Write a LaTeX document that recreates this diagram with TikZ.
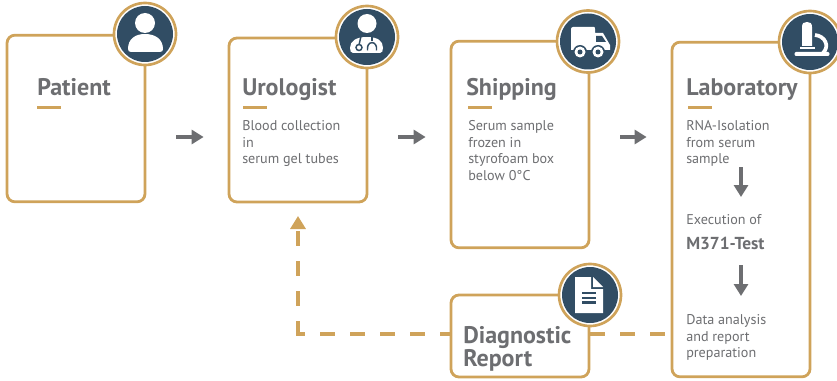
\documentclass[tikz,border=0pt]{standalone}
\usepackage{fontspec}
\setmainfont{PT Sans}
\usetikzlibrary{arrows.meta,positioning}
\definecolor{gold}{RGB}{207,163,90}
\definecolor{navy}{RGB}{49,77,100}
\definecolor{slate}{RGB}{109,110,113}
\tikzset{
  stage/.style={draw=gold,line width=2.1pt,rounded corners=6pt,fill=white,inner sep=0pt},
  badge/.style={draw=gold,line width=2pt,fill=white},
  disc/.style={fill=navy},
  ink/.style={fill=white},
  title/.style={anchor=base west,inner sep=0pt,text=slate,font=\fontsize{18}{21}\selectfont\bfseries,align=left},
  body/.style={anchor=north west,inner sep=0pt,text=slate,font=\fontsize{10.6}{12.4}\selectfont,align=left},
  rule/.style={draw=gold,line width=2.2pt},
  flow/.style={draw=slate,line width=3.2pt,-{Triangle[length=9pt,width=10.5pt]}},
  across/.style={flow,shorten <=22.5pt,shorten >=18pt},
  back/.style={draw=gold,line width=2.6pt,dash pattern=on 11.25pt off 11.25pt},
  backtip/.style={back,shorten <=-1.3pt,-{Triangle[length=9.75pt,width=11.25pt]}}
}
\begin{document}
\begin{tikzpicture}[x=0.75pt,y=0.75pt,yscale=-1,xscale=1]
\useasboundingbox (0,0) rectangle (837,381);

%Shape: Rectangle
\node [stage,minimum width=103.5pt,minimum height=125pt] (patient) at (76,118.5) {};
\node [stage,minimum width=103.5pt,minimum height=123pt] (urologist) at (298,120) {};
\node [stage,minimum width=103.5pt,minimum height=155pt] (shipping) at (520,144.5) {};
\node [stage,minimum width=103.5pt,minimum height=251pt] (laboratory) at (741,209.5) {};
\node [stage,minimum width=103.5pt,minimum height=61.5pt] (report) at (520,336) {};

%Straight Lines
\draw [across] (patient.east |- 0,137) -- (urologist.west |- 0,137);
\draw [across] (urologist.east |- 0,137) -- (shipping.west |- 0,137);
\draw [across] (shipping.east |- 0,137) -- (laboratory.west |- 0,137);

%Straight Lines
\coordinate (turn) at (298,334);
\coordinate (tip) at (298,216);
\draw [back] (report.east |- turn) -- (laboratory.west |- turn);
\draw [back,dash phase=3.75pt] (report.west |- turn) -- (turn);
\draw [backtip] (turn) -- (tip);

%Shape: Circle
\path [badge] (145,34) circle (31);
\path [disc] (145,34) circle (28);
\path [badge] (367,37) circle (31);
\path [disc] (367,37) circle (28);
\path [badge] (588,41.5) circle (31);
\path [disc] (588,41.5) circle (28);
\path [badge] (810,42) circle (31);
\path [disc] (810,42) circle (28);
\path [badge] (590,295) circle (31);
\path [disc] (590,295) circle (28);

%Icon: person
\path [ink] (145,23) circle (10);
\path [ink] (128,49) .. controls (128,39) and (135,34) .. (145,34) .. controls (155,34) and (163,39) .. (163,49) .. controls (163,51) and (162,52) .. (160,52) -- (131,52) .. controls (129,52) and (128,51) .. (128,49) -- cycle;

%Icon: doctor
\path [ink] (367,23.5) circle (9.5);
\path [ink] (350,48) .. controls (350,41) and (356,37) .. (367,37) .. controls (378,37) and (383,41) .. (383,48) .. controls (383,51) and (382,53) .. (380,53) -- (353,53) .. controls (351,53) and (350,51) .. (350,48) -- cycle;
\draw [navy,line width=1.1pt] (361,36) -- (359,45);
\draw [navy,line width=1.1pt] (359,47.5) circle (3);
\draw [navy,line width=1.1pt] (372,36) -- (372,41);
\draw [navy,line width=1.1pt] (367.5,50.5) .. controls (366,40) and (378,40) .. (376.5,50.5);

%Icon: truck
\path [ink] (571,29) .. controls (571,28) and (572,27) .. (573,27) -- (594,27) .. controls (595,27) and (595,28) .. (595,29) -- (595,33) -- (603,33) -- (610,45) -- (610,50) -- (571,50) -- cycle;
\path [disc] (596,36) -- (602,36) -- (606,42) -- (596,42) -- cycle;
\path [disc] (580,52) circle (7);
\path [ink] (580,52) circle (5.5);
\path [disc] (580,52) circle (2.5);
\path [disc] (598,52) circle (7);
\path [ink] (598,52) circle (5.5);
\path [disc] (598,52) circle (2.5);

%Icon: microscope
\path [ink] (802,27) .. controls (802,23) and (804,22) .. (807,22) .. controls (810,22) and (812,23) .. (812,27) -- (812,46) -- (802,46) -- cycle;
\path [ink] (800,47) -- (815,47) -- (815,49) -- (800,49) -- cycle;
\draw [white,line width=2.8pt] (815,35) .. controls (825,36) and (830,46) .. (823,53);
\path [ink] (796,52) -- (828,52) .. controls (830,52) and (830,56) .. (828,56) -- (796,56) .. controls (794,56) and (794,52) .. (796,52) -- cycle;

%Icon: document
\path [ink] (575,277) -- (591,277) -- (591,289) -- (603,289) -- (603,313) -- (575,313) -- cycle;
\path [ink] (593,277) -- (603,287) -- (593,287) -- cycle;
\draw [navy,line width=1.6pt] (582,293) -- (596,293) (582,298) -- (596,298) (582,302.5) -- (596,302.5);

% Text Node
\draw (37,96) node [title] (patienttitle) {Patient};
\draw [rule] (37,107.5) -- (61,107.5);
\draw (242,96) node [title] (urologisttitle) {Urologist};
\draw [rule] (243,107.5) -- (267,107.5);
\draw (242,120.5) node [body] (urologisttext) {Blood collection\\in\\serum gel tubes};
\draw (466,96) node [title] (shippingtitle) {Shipping};
\draw [rule] (468,107.5) -- (492,107.5);
\draw (468,120.5) node [body] (shippingtext) {Serum sample\\frozen in\\styrofoam box\\below 0°C};
\draw (686,96) node [title] (laboratorytitle) {Laboratory};
\draw [rule] (688,107.5) -- (712,107.5);
\draw (686,120.5) node [body] (isolation) {RNA-Isolation\\from serum\\sample};
\draw (686,214.5) node [body] (execution) {Execution of};
\draw (686,249) node [anchor=base west,inner sep=0pt,text=slate,font=\fontsize{13}{15}\selectfont\bfseries] (marker) {M371-Test};
\draw (686,314.5) node [body] (analysis) {Data analysis\\and report\\preparation};
\draw (463,343) node [title] (reporttitle) {Diagnostic};
\draw (463,366) node [title] (reporttitleb) {Report};

%Straight Lines
\coordinate (downa) at (741,167);
\coordinate (downb) at (741,197);
\coordinate (downc) at (741,265);
\coordinate (downd) at (741,296);
\draw [flow] (downa) -- (downb);
\draw [flow] (downc) -- (downd);
\end{tikzpicture}
\end{document}
